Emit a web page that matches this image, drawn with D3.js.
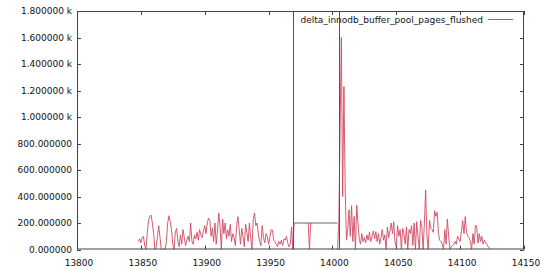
<!DOCTYPE html>
<html lang="en">
	<head>
		<meta charset="utf-8">
		<title>delta_innodb_buffer_pool_pages_flushed</title>
		<script type="text/javascript" src="https://cdnjs.cloudflare.com/ajax/libs/d3/7.8.5/d3.min.js"></script>
		<style type="text/css">
			body { margin: 0; background: #fff; }
			text { font-family: "DejaVu Sans", sans-serif; font-size: 9px; fill: #111; }
		</style>
	</head>
	<body>
		<script type="text/javascript">

			// data
			var seriesName = 'delta_innodb_buffer_pool_pages_flushed';
			var xStart = 13848;
			var values = [
				60, 80, 50, 90, 100, 30, 0, 120, 220, 250,
				260, 200, 120, 0, 20, 100, 180, 90, 0, 0,
				0, 0, 60, 200, 255, 210, 150, 40, 0, 130,
				160, 60, 20, 110, 40, 150, 90, 30, 70, 100,
				60, 200, 60, 40, 110, 80, 130, 70, 150, 110,
				90, 140, 180, 120, 200, 237, 220, 100, 160, 60,
				200, 40, 140, 275, 180, 0, 230, 120, 200, 80,
				150, 100, 190, 60, 120, 90, 30, 180, 248, 150,
				40, 160, 100, 20, 190, 130, 60, 200, 90, 0,
				230, 275, 180, 200, 120, 60, 30, 180, 90, 50,
				120, 100, 40, 90, 150, 147, 70, 60, 40, 20,
				60, 40, 70, 30, 80, 70, 100, 50, 20, 40,
				170, 0, 200, null, null, null, null, null, null, null,
				null, null, null, 200, 0, 200, null, null, null, null,
				null, null, null, null, null, null, null, null, null, null,
				null, null, null, null, null, 0, 0, 200, 900, 1600,
				400, 1230, 450, 70, 150, 300, 100, 330, 60, 250,
				0, 335, 200, 80, 40, 120, 60, 90, 50, 110,
				70, 130, 60, 100, 140, 80, 135, 60, 120, 40,
				90, 150, 70, 110, 0, 170, 90, 140, 200, 120,
				210, 60, 20, 180, 100, 150, 0, 160, 120, 40,
				170, 0, 150, 120, 180, 30, 200, 0, 210, 100,
				0, 220, 172, 0, 200, 449, 100, 0, 220, 160,
				150, 130, 293, 250, 280, 120, 70, 60, 40, 0,
				150, 40, 230, 100, 0, 20, 30, 40, 60, 40,
				100, 80, 60, 140, 217, 120, 248, 130, 100, 90,
				60, 0, 120, 40, 185, 170, 50, 120, 60, 100,
				40, 70, 50, 40, 20, 10, 0
			];
			// flat gray stretch and the two full-height markers
			var flatX = [13970, 13981, 13983, 14004];
			var flatY = [200, 200, 200, 200];
			var markerX = [13969, 14005.5];

			var xTicks = d3.range(13800, 14151, 50);
			var yTicks = d3.range(0, 1801, 200);

			var w = 540;
			var h = 270;
			var margin = {top: 11, right: 16, bottom: 20.5, left: 77};
			var red = '#d04a62';

			var data = values.map((v, i) => ({x: xStart + i, y: v}));

			var xScale = d3.scaleLinear()
							.domain([13800, 14150])
							.range([margin.left, w - margin.right]);

			var yScale = d3.scaleLinear()
							.domain([0, 1800])
							.range([h - margin.bottom, margin.top]);

			var yFmt = d => d >= 1000 ? (d / 1000).toFixed(6) + ' k' : d.toFixed(6);

			var svg = d3.select('body')
							.append('svg')
							.attr('width', w)
							.attr('height', h);

			svg.append('clipPath').attr('id', 'clip')
				.append('rect')
					.attr('x', margin.left)
					.attr('y', margin.top)
					.attr('width', w - margin.left - margin.right)
					.attr('height', h - margin.top - margin.bottom);

			// ticks, gnuplot style: inward on all four sides
			var tickLen = 4;
			var grid = svg.append('g').attr('stroke', '#444').attr('stroke-width', 1);
			xTicks.forEach(t => {
				var x = Math.round(xScale(t)) + 0.5;
				grid.append('line').attr('x1', x).attr('x2', x)
					.attr('y1', yScale(0)).attr('y2', yScale(0) - tickLen);
				grid.append('line').attr('x1', x).attr('x2', x)
					.attr('y1', yScale(1800)).attr('y2', yScale(1800) + tickLen);
			});
			yTicks.forEach(t => {
				var y = Math.round(yScale(t)) + 0.5;
				grid.append('line').attr('x1', xScale(13800)).attr('x2', xScale(13800) + tickLen)
					.attr('y1', y).attr('y2', y);
				grid.append('line').attr('x1', xScale(14150)).attr('x2', xScale(14150) - tickLen)
					.attr('y1', y).attr('y2', y);
			});

			svg.append('g')
				.selectAll('text')
				.data(xTicks)
				.enter()
				.append('text')
					.attr('x', d => xScale(d) + 2)
					.attr('y', h - 4)
					.attr('text-anchor', 'middle')
					.text(d => d);

			svg.append('g')
				.selectAll('text')
				.data(yTicks)
				.enter()
				.append('text')
					.attr('x', margin.left - 5)
					.attr('y', d => yScale(d) + 3)
					.attr('text-anchor', 'end')
					.text(yFmt);

			var plot = svg.append('g').attr('clip-path', 'url(#clip)');

			var line = d3.line()
							.defined(d => d.y !== null)
							.x(d => xScale(d.x))
							.y(d => yScale(d.y));

			plot.append('path')
				.datum(data)
				.attr('fill', 'none')
				.attr('stroke', red)
				.attr('stroke-width', 0.9)
				.attr('d', line);

			plot.append('path')
				.datum(flatX.map((x, i) => ({x: x, y: flatY[i]})))
				.attr('fill', 'none')
				.attr('stroke', '#666')
				.attr('stroke-width', 1)
				.attr('d', line);

			plot.selectAll('line.marker')
				.data(markerX)
				.enter()
				.append('line')
					.attr('class', 'marker')
					.attr('x1', d => Math.round(xScale(d)) + 0.5)
					.attr('x2', d => Math.round(xScale(d)) + 0.5)
					.attr('y1', yScale(0))
					.attr('y2', yScale(1800))
					.attr('stroke', '#555')
					.attr('stroke-width', 1);

			// border
			svg.append('rect')
				.attr('x', margin.left + 0.5)
				.attr('y', margin.top + 0.5)
				.attr('width', w - margin.left - margin.right - 1)
				.attr('height', h - margin.top - margin.bottom - 1)
				.attr('fill', 'none')
				.attr('stroke', '#444');

			// legend
			svg.append('text')
				.attr('x', 483)
				.attr('y', 23)
				.attr('text-anchor', 'end')
				.text(seriesName);
			svg.append('line')
				.attr('x1', 488).attr('x2', 513)
				.attr('y1', 19.5).attr('y2', 19.5)
				.attr('stroke', red)
				.attr('stroke-width', 1);
		</script>
	</body>
</html>
